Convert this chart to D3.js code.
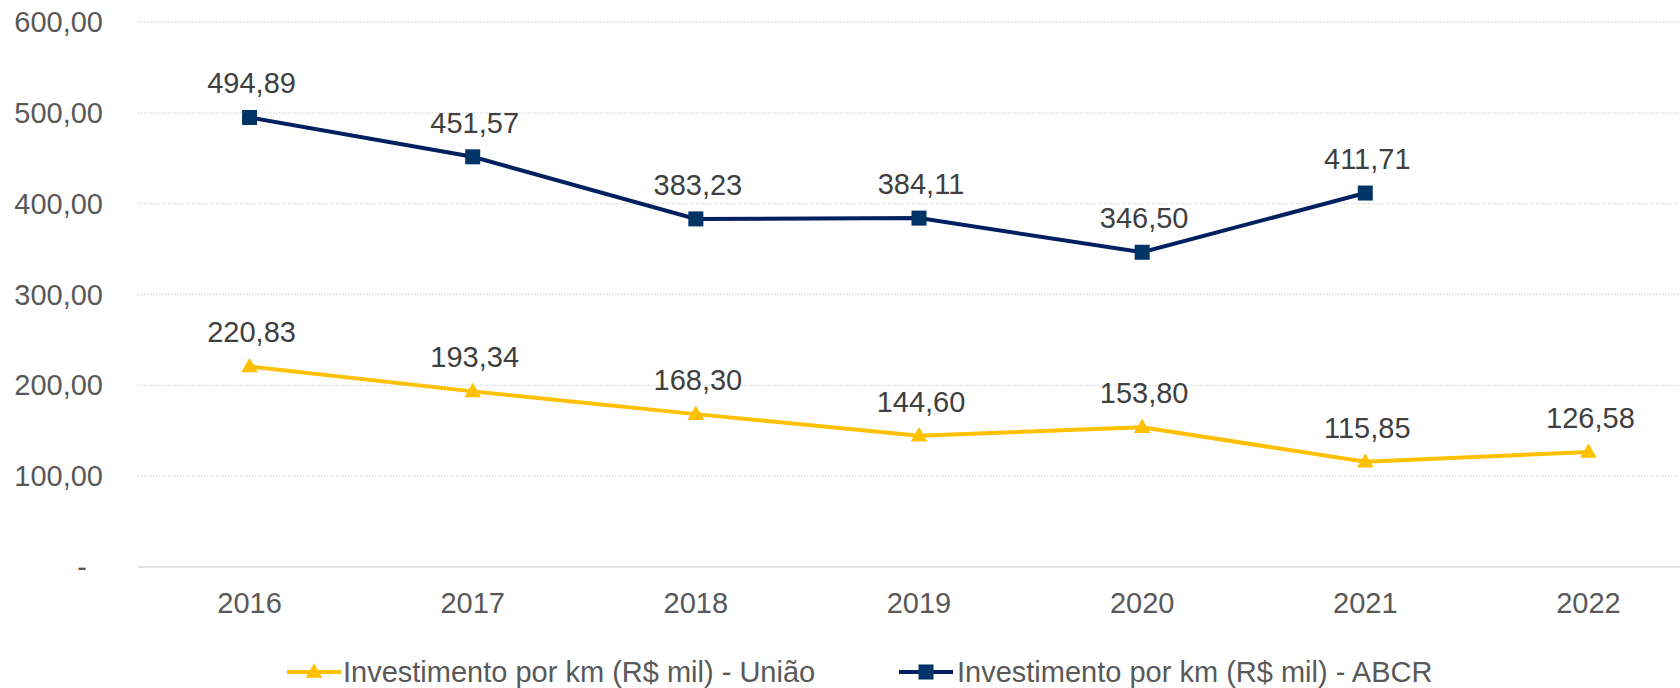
<!DOCTYPE html>
<html>
<head>
<meta charset="utf-8">
<script src="https://cdn.jsdelivr.net/npm/d3@7"></script>
<style>
  body { margin: 0; background: #fff; }
  svg { display: block; font-family: "Liberation Sans", Arial, sans-serif; }
</style>
</head>
<body>
<script>
let years = ['2016', '2017', '2018', '2019', '2020', '2021', '2022']
let uniao = [220.83, 193.34, 168.30, 144.60, 153.80, 115.85, 126.58]
let abcr = [494.89, 451.57, 383.23, 384.11, 346.50, 411.71]
let yTicks = [0, 100, 200, 300, 400, 500, 600]
let seriesNames = ['Investimento por km (R$ mil) - União', 'Investimento por km (R$ mil) - ABCR']

let width = 1680
let height = 688

let locale = d3.formatLocale({ decimal: ',', thousands: '.', grouping: [3], currency: ['R$', ''] })
let fmt = locale.format(',.2f')

let svg = d3.select('body').append('svg')
    .attr('width', width)
    .attr('height', height)

let xScale = d3.scaleBand()
    .domain(years)
    .range([138, 1700])

let yScale = d3.scaleLinear()
    .domain([0, 600])
    .range([567, 22])

let cx = (d) => xScale(d) + xScale.bandwidth() / 2

// gridlines
svg.append('g')
    .selectAll('line')
    .data(yTicks.filter(t => t > 0))
    .enter()
    .append('line')
    .attr('x1', 138)
    .attr('x2', width)
    .attr('y1', d => yScale(d))
    .attr('y2', d => yScale(d))
    .attr('stroke', '#d9d9d9')
    .attr('stroke-width', 1.3)
    .attr('stroke-dasharray', '1.5,1.5')

// baseline
svg.append('line')
    .attr('x1', 138)
    .attr('x2', width)
    .attr('y1', yScale(0))
    .attr('y2', yScale(0))
    .attr('stroke', '#d9d9d9')
    .attr('stroke-width', 1.5)

// y axis labels
svg.append('g')
    .selectAll('text')
    .data(yTicks)
    .enter()
    .append('text')
    .attr('x', d => d === 0 ? 87 : 103)
    .attr('y', d => yScale(d))
    .attr('dy', '0.35em')
    .attr('text-anchor', 'end')
    .attr('font-size', 29)
    .attr('fill', '#595959')
    .text(d => d === 0 ? '-' : fmt(d))

// x axis labels
svg.append('g')
    .selectAll('text')
    .data(years)
    .enter()
    .append('text')
    .attr('x', d => cx(d))
    .attr('y', 613)
    .attr('text-anchor', 'middle')
    .attr('font-size', 29)
    .attr('fill', '#595959')
    .text(d => d)

let line = d3.line()
    .x((d, i) => cx(years[i]))
    .y(d => yScale(d))

let triangle = d3.symbol().type(d3.symbolTriangle).size(120)

// União series
svg.append('path')
    .datum(uniao)
    .attr('d', line)
    .attr('fill', 'none')
    .attr('stroke', '#ffc000')
    .attr('stroke-width', 4)

svg.append('g')
    .selectAll('path')
    .data(uniao)
    .enter()
    .append('path')
    .attr('d', triangle)
    .attr('transform', (d, i) => 'translate(' + cx(years[i]) + ',' + (yScale(d) + 1) + ')')
    .attr('fill', '#ffc000')

// ABCR series
svg.append('path')
    .datum(abcr)
    .attr('d', line)
    .attr('fill', 'none')
    .attr('stroke', '#002060')
    .attr('stroke-width', 4)

svg.append('g')
    .selectAll('rect')
    .data(abcr)
    .enter()
    .append('rect')
    .attr('x', (d, i) => cx(years[i]) - 7.5)
    .attr('y', d => yScale(d) - 7.5)
    .attr('width', 15)
    .attr('height', 15)
    .attr('fill', '#003366')

// data labels
let labels = svg.append('g')
    .attr('font-size', 29)
    .attr('fill', '#404040')
    .attr('text-anchor', 'middle')

labels.selectAll('.lab-u')
    .data(uniao)
    .enter()
    .append('text')
    .attr('class', 'lab-u')
    .attr('x', (d, i) => cx(years[i]) + 2)
    .attr('y', d => yScale(d) - 24)
    .text(d => fmt(d))

labels.selectAll('.lab-a')
    .data(abcr)
    .enter()
    .append('text')
    .attr('class', 'lab-a')
    .attr('x', (d, i) => cx(years[i]) + 2)
    .attr('y', d => yScale(d) - 24)
    .text(d => fmt(d))

// legend
let legend = svg.append('g')

let leg1 = legend.append('g').attr('transform', 'translate(287, 672)')
leg1.append('line')
    .attr('x1', 0).attr('x2', 54)
    .attr('stroke', '#ffc000').attr('stroke-width', 4)
leg1.append('path')
    .attr('d', triangle)
    .attr('transform', 'translate(27, 1)')
    .attr('fill', '#ffc000')
leg1.append('text')
    .attr('x', 56)
    .attr('y', 10)
    .attr('font-size', 29)
    .attr('fill', '#595959')
    .text(seriesNames[0])

let leg2 = legend.append('g').attr('transform', 'translate(899, 672)')
leg2.append('line')
    .attr('x1', 0).attr('x2', 54)
    .attr('stroke', '#002060').attr('stroke-width', 4)
leg2.append('rect')
    .attr('x', 19.5).attr('y', -7.5)
    .attr('width', 15).attr('height', 15)
    .attr('fill', '#003366')
leg2.append('text')
    .attr('x', 58)
    .attr('y', 10)
    .attr('font-size', 29)
    .attr('fill', '#595959')
    .text(seriesNames[1])
</script>
</body>
</html>
